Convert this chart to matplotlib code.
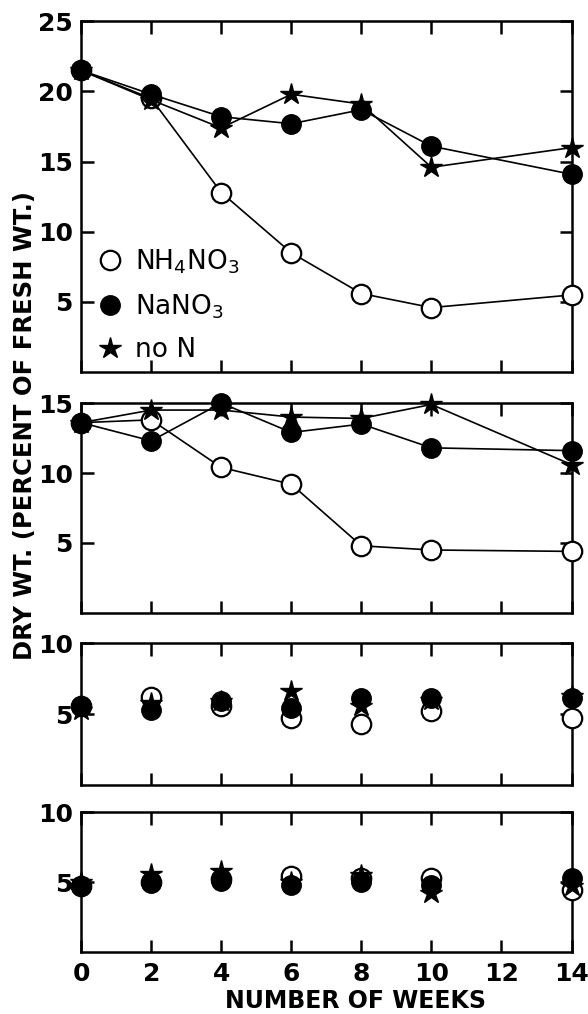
import numpy as np
import matplotlib
matplotlib.use('Agg')
import matplotlib.pyplot as plt
from matplotlib.lines import Line2D

# ---------------------------------------------------------------
# data (weeks, dry wt. % of fresh wt.)
# ---------------------------------------------------------------
weeks = [0, 2, 4, 6, 8, 10, 14]

# panel 1
p1_nh4no3 = [21.5, 19.5, 12.8, 8.5, 5.6, 4.6, 5.5]
p1_nano3  = [21.5, 19.8, 18.2, 17.7, 18.7, 16.1, 14.1]
p1_non    = [21.5, 19.4, 17.4, 19.8, 19.1, 14.6, 16.0]

# panel 2
p2_nh4no3 = [13.6, 13.8, 10.4, 9.2, 4.8, 4.5, 4.4]
p2_nano3  = [13.6, 12.3, 15.0, 12.9, 13.5, 11.8, 11.6]
p2_non    = [13.6, 14.5, 14.5, 14.0, 13.9, 14.9, 10.6]

# panel 3
p3_nh4no3 = [5.6, 6.2, 5.6, 4.7, 4.3, 5.2, 4.7]
p3_nano3  = [5.6, 5.3, 5.9, 5.4, 6.1, 6.1, 6.1]
p3_non    = [5.3, 5.8, 5.9, 6.6, 5.6, 6.0, 6.3]

# panel 4
p4_nh4no3 = [4.7, 5.0, 5.2, 5.4, 5.3, 5.3, 4.4]
p4_nano3  = [4.7, 4.9, 5.1, 4.8, 5.0, 4.8, 5.3]
p4_non    = [5.0, 5.6, 5.8, 5.0, 5.5, 4.2, 4.7]

panels = [
    {'nh4': p1_nh4no3, 'na': p1_nano3, 'non': p1_non, 'top': 25,
     'yticks': [5, 10, 15, 20, 25], 'lines': True},
    {'nh4': p2_nh4no3, 'na': p2_nano3, 'non': p2_non, 'top': 15,
     'yticks': [5, 10, 15], 'lines': True},
    {'nh4': p3_nh4no3, 'na': p3_nano3, 'non': p3_non, 'top': 10,
     'yticks': [5, 10], 'lines': False},
    {'nh4': p4_nh4no3, 'na': p4_nano3, 'non': p4_non, 'top': 10,
     'yticks': [5, 10], 'lines': False},
]

xticks      = [0, 2, 4, 6, 8, 10, 12, 14]
legend_lbls = ['NH$_4$NO$_3$', 'NaNO$_3$', 'no N']

#==============================================================================
# FIGURE
#==============================================================================

plt.rcParams['font.family'] = ['DejaVu Sans']
plt.rcParams['mathtext.default'] = 'regular'

fig = plt.figure(figsize=(5.88, 10.14), dpi=100)

# axes boxes [left, bottom, width, height] in figure fraction
boxes = [
    [0.138, 0.633, 0.834, 0.346],
    [0.138, 0.3955, 0.834, 0.207],
    [0.138, 0.2258, 0.834, 0.140],
    [0.138, 0.0611, 0.834, 0.138],
]

MS_C = 14
MS_S = 16
LW   = 1.2

for i, (pn, box) in enumerate(zip(panels, boxes)):
    ax = fig.add_axes(box)
    ls = '-' if pn['lines'] else 'none'

    ax.plot(weeks, pn['nh4'], color='black', linestyle=ls, linewidth=LW,
            marker='o', markersize=MS_C, markerfacecolor='white',
            markeredgecolor='black', markeredgewidth=1.6, zorder=3,
            clip_on=False)
    ax.plot(weeks, pn['na'], color='black', linestyle=ls, linewidth=LW,
            marker='o', markersize=MS_C, markerfacecolor='black',
            markeredgecolor='black', zorder=4, clip_on=False)
    ax.plot(weeks, pn['non'], color='black', linestyle=ls, linewidth=LW,
            marker='*', markersize=MS_S, markerfacecolor='black',
            markeredgecolor='black', zorder=5, clip_on=False)

    ax.set_xlim(0, 14)
    ax.set_ylim(0, pn['top'])

    for sp in ax.spines.values():
        sp.set_linewidth(1.8)

    ax.set_xticks(xticks)
    ax.set_yticks(pn['yticks'])
    ax.tick_params(axis='both', direction='in', length=9, width=1.8,
                   top=True, right=True, labelsize=18)
    ax.tick_params(axis='y', pad=6)
    ax.tick_params(axis='x', pad=7)
    for lab in ax.get_yticklabels() + ax.get_xticklabels():
        lab.set_fontweight('bold')

    if i < 3:
        ax.set_xticklabels([])

    if i == 0:
        handles = [
            Line2D([], [], linestyle='none', marker='o', markersize=MS_C,
                   markerfacecolor='white', markeredgecolor='black',
                   markeredgewidth=1.6),
            Line2D([], [], linestyle='none', marker='o', markersize=MS_C,
                   markerfacecolor='black', markeredgecolor='black'),
            Line2D([], [], linestyle='none', marker='*', markersize=MS_S,
                   markerfacecolor='black', markeredgecolor='black'),
        ]
        ax.legend(handles, legend_lbls, loc='lower left',
                  bbox_to_anchor=(-0.012, -0.035), frameon=False,
                  fontsize=19, handlelength=1.0, handletextpad=0.45,
                  labelspacing=0.62, borderpad=0.3)

fig.text(0.043, 0.58, 'DRY WT. (PERCENT OF FRESH WT.)', rotation=90,
         ha='center', va='center', fontsize=17.5, fontweight='bold')
fig.text(0.605, 0.013, 'NUMBER OF WEEKS', ha='center', va='center',
         fontsize=17, fontweight='bold')

plt.savefig('out.png', dpi=100)
plt.close()
